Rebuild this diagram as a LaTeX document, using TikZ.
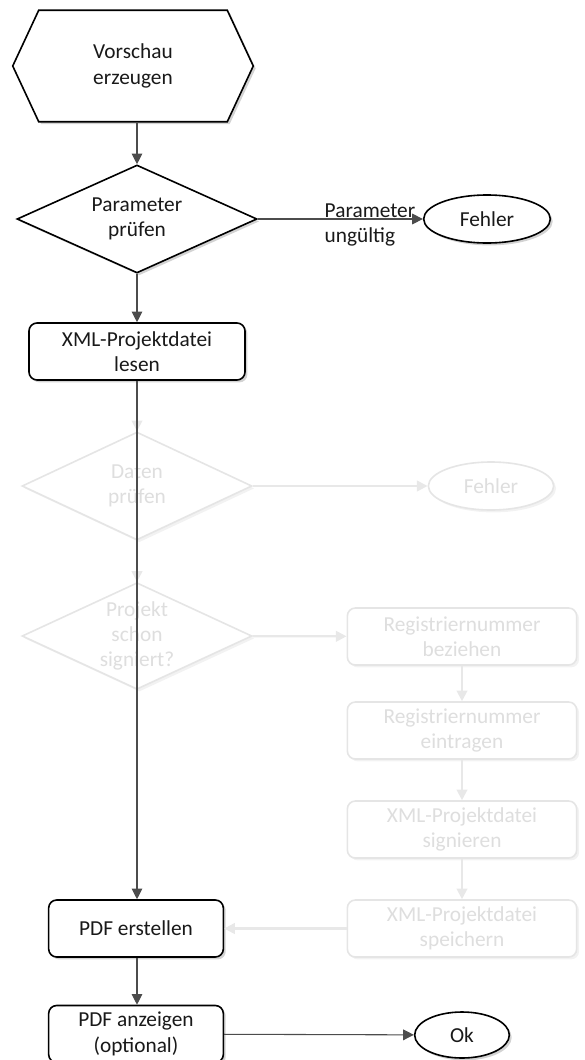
\documentclass[tikz,border=0pt]{standalone}
\usepackage{fontspec}
\setmainfont{Carlito}
\usetikzlibrary{shapes.geometric,arrows.meta,shadows,backgrounds}

\tikzset{
  every node/.style={font=\fontsize{16}{19}\selectfont, align=center, text=black!90},
  boxshadow/.style={drop shadow={opacity=#1, shadow xshift=1.8pt, shadow yshift=-1.8pt}},
  start/.style={rectangle, minimum width=180pt, minimum height=83.25pt},
  decision/.style={diamond, aspect=2.2, inner sep=-10pt, minimum width=180pt,
    minimum height=81pt, draw, line width=1.2pt, fill=white},
  process/.style={rectangle, rounded corners=6pt, minimum height=42.75pt,
    draw, line width=1.2pt, fill=white},
  terminal/.style={ellipse, draw, line width=1.2pt, fill=white},
  faded/.style={draw=black!10, text=black!13},
  flow/.style={-{Triangle[length=8pt,width=8pt]}, draw=black!70, line width=0.8pt},
  fadedflow/.style={-{Triangle[length=8pt,width=8pt]}, draw=black!9, line width=1.6pt}
}

\begin{document}
\begin{tikzpicture}[x=0.75pt,y=-0.75pt]
  \useasboundingbox (0,0) rectangle (585,1060);

  % upper part
  \node[start] (vorschau) at (133,66) {Vorschau\\erzeugen};
  \begin{pgfonlayer}{background}
    \draw[line width=1.2pt, fill=white, boxshadow=0.35]
      (vorschau.west) -- ([xshift=19.5pt]vorschau.north west)
      -- ([xshift=-19.5pt]vorschau.north east) -- (vorschau.east)
      -- ([xshift=-19.5pt]vorschau.south east)
      -- ([xshift=19.5pt]vorschau.south west) -- cycle;
  \end{pgfonlayer}
  \node[decision, boxshadow=0.35] (parpruef) at (137,219) {Parameter\\prüfen};
  \node[terminal, minimum width=95pt, minimum height=36pt, boxshadow=0.35] (fehlerA) at (487,219) {Fehler};
  \node[process, minimum width=162pt, boxshadow=0.35] (lesen) at (137,351.5) {XML-Projektdatei\\lesen};
  \node[anchor=west, align=left] (ungueltig) at (320,225) {Parameter\\ungültig};

  % faded part
  \node[decision, faded, minimum width=172.5pt, boxshadow=0.1] (datpruef) at (137,486) {Daten\\prüfen};
  \node[terminal, faded, minimum width=94pt, minimum height=36pt, boxshadow=0.1] (fehlerB) at (491,486) {Fehler};
  \node[decision, faded, minimum width=172.5pt, minimum height=80pt, boxshadow=0.1] (signiert) at (137,636) {Projekt\\schon\\signiert?};
  \node[process, faded, minimum width=172pt, boxshadow=0.1] (beziehen) at (462,636.5) {Registriernummer\\beziehen};
  \node[process, faded, minimum width=172pt, boxshadow=0.1] (eintragen) at (462,730.5) {Registriernummer\\eintragen};
  \node[process, faded, minimum width=172pt, boxshadow=0.1] (signieren) at (462,829.5) {XML-Projektdatei\\signieren};
  \node[process, faded, minimum width=172pt, boxshadow=0.1] (speichern) at (462,928.5) {XML-Projektdatei\\speichern};

  % lower part
  \node[process, minimum width=131pt, boxshadow=0.35] (erstellen) at (136,928.5) {PDF erstellen};
  \node[process, minimum width=131pt, boxshadow=0.35] (anzeigen) at (136,1034) {PDF anzeigen\\(optional)};
  \node[terminal, minimum width=71pt, minimum height=34.5pt, boxshadow=0.35] (ok) at (462,1035) {Ok};

  \draw[fadedflow] (lesen) -- (datpruef);
  \draw[fadedflow] (datpruef) -- (fehlerB);
  \draw[fadedflow] (datpruef) -- (signiert);
  \draw[fadedflow] (signiert) -- (beziehen);
  \draw[fadedflow] (beziehen) -- (eintragen);
  \draw[fadedflow] (eintragen) -- (signieren);
  \draw[fadedflow] (signieren) -- (speichern);
  \draw[fadedflow] (speichern) -- (erstellen);

  \draw[flow] (vorschau.south -| parpruef.north) -- (parpruef.north);
  \draw[flow] (parpruef) -- (fehlerA);
  \draw[flow] (parpruef) -- (lesen);
  \draw[flow] (lesen.south) -- (lesen.south |- erstellen.north);
  \draw[flow] (erstellen.south -| lesen.south) -- (anzeigen.north -| lesen.south);
  \draw[flow] (anzeigen) -- (ok);
\end{tikzpicture}
\end{document}
